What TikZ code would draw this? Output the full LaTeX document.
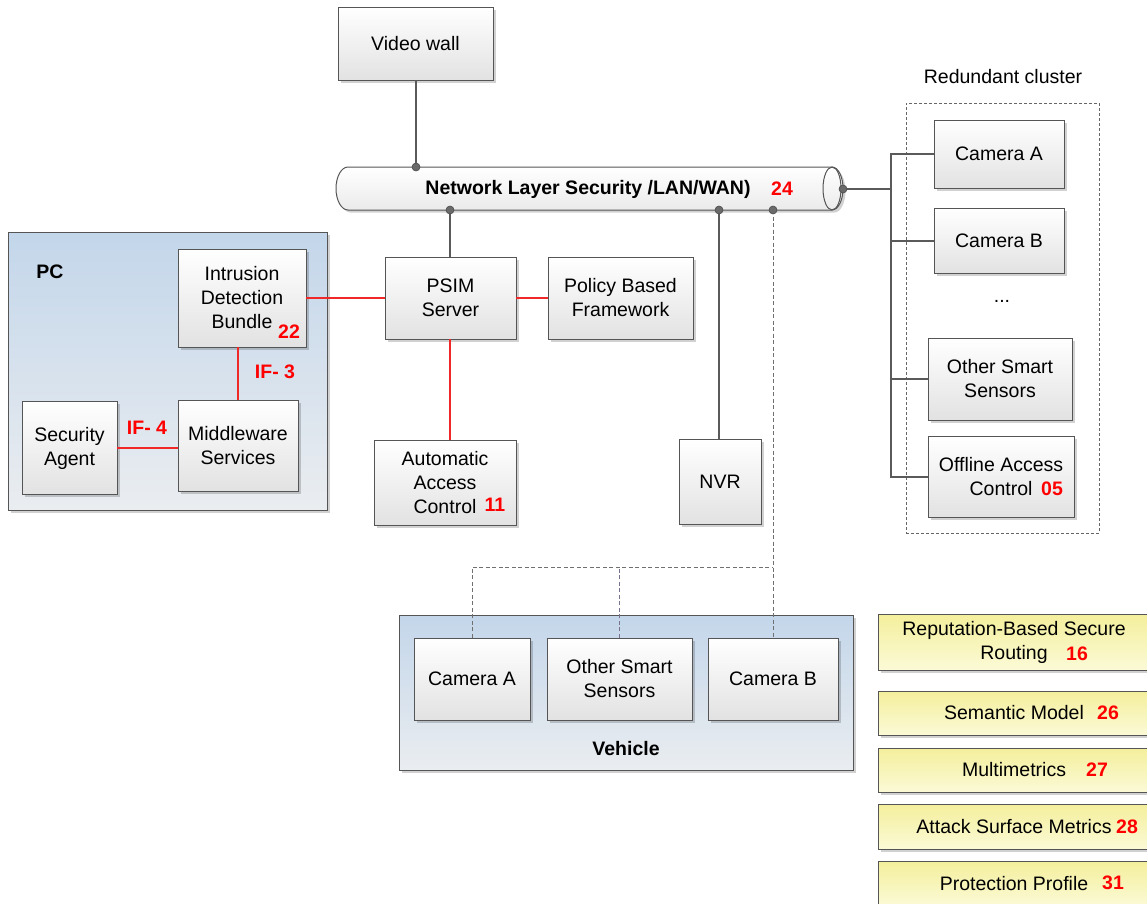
\documentclass[tikz,border=0pt]{standalone}
\usepackage{fontspec}
\setmainfont{Liberation Sans}
\usetikzlibrary{shadows}
\definecolor{edge}{HTML}{555555}
\definecolor{wire}{HTML}{5A5A5A}
\definecolor{boxbot}{HTML}{E2E2E2}
\definecolor{regtop}{HTML}{C3D6EA}
\definecolor{regbot}{HTML}{EAEDF0}
\definecolor{yeltop}{HTML}{F4EF9C}
\definecolor{yelbot}{HTML}{FBFAD6}
\definecolor{tagred}{HTML}{FF0000}
\definecolor{redwire}{HTML}{F02828}
\definecolor{dotfill}{HTML}{6A6A6A}
\definecolor{dashgray}{HTML}{707070}
\definecolor{dashviolet}{HTML}{7A7090}
\begin{document}
\begin{tikzpicture}[x=1pt,y=-1pt,
  every node/.style={font=\fontsize{19.5}{24}\selectfont},
  boxshadow/.style={drop shadow={shadow xshift=2.5pt,shadow yshift=-2.5pt,fill=black,opacity=0.18}},
  gbox/.style={draw=edge,line width=0.9pt,top color=white,bottom color=boxbot,
    boxshadow,align=center,inner sep=0pt},
  ybox/.style={draw=edge,line width=0.9pt,top color=yeltop,bottom color=yelbot,
    boxshadow,align=center,inner sep=0pt,minimum width=272},
  region/.style={draw=edge,line width=0.9pt,top color=regtop,bottom color=regbot,boxshadow},
  tag/.style={text=tagred,font=\fontsize{19.5}{24}\selectfont\bfseries,inner sep=0pt},
  title/.style={font=\fontsize{19.5}{24}\selectfont\bfseries,inner sep=0pt},
  link/.style={draw=wire,line width=1.3pt},
  redlink/.style={draw=redwire,line width=1.3pt},
  dashlink/.style={draw=dashgray,line width=1pt,dash pattern=on 4pt off 2.5pt},
  port/.style={draw=black!70,fill=dotfill,line width=0.6pt}
]
\useasboundingbox (0,0) rectangle (1147,903);

% ---- containers ----
\node[region,minimum width=319,minimum height=278] (pc) at (167.5,371) {};
\node[title] (pclabel) at (50,272) {PC};
\node[region,minimum width=454,minimum height=155] (vehicle) at (626,692.5) {};
\node[title] (vehlabel) at (626,749) {Vehicle};
\node[draw=black!60,line width=0.8pt,dash pattern=on 3pt off 2pt,minimum width=193,minimum height=430] (cluster) at (1002.5,318) {};
\node (clusterlabel) at (1003,77) {Redundant cluster};

% ---- network backbone (pipe) ----
\path[draw=edge,line width=1pt,top color=white,bottom color=black!8,boxshadow]
  (348,167) -- (832,167) arc[start angle=-90,end angle=90,x radius=11,y radius=21.5]
  -- (348,210) arc[start angle=90,end angle=270,x radius=12,y radius=21.5] -- cycle;
\draw[edge,line width=1pt] (832,188.5) ellipse[x radius=9,y radius=21.5];
\node[title] (net) at (588,189) {Network Layer Security /LAN/WAN)};
\node[tag] (n24) at (782,189) {24};
\coordinate (vwport) at (416,167);
\coordinate (psport) at (450,210);
\coordinate (nvrport) at (719,210);
\coordinate (vehport) at (773,210);
\coordinate (rcport) at (843,189);

% ---- boxes ----
\node[gbox,minimum width=155,minimum height=73] (vw) at (415.5,43.5) {Video wall};
\node[gbox,minimum width=131,minimum height=82] (psim) at (450.5,298) {PSIM\\Server};
\node[gbox,minimum width=145,minimum height=82] (pbf) at (620.5,298) {Policy Based\\Framework};
\node[gbox,minimum width=142,minimum height=85] (acc) at (445,482.5) {Automatic\\Access\\Control};
\node[tag] (n11) at (495,505) {11};
\node[gbox,minimum width=82,minimum height=85] (nvr) at (720,481.5) {NVR};

\node[gbox,minimum width=128,minimum height=98] (idb) at (242,298) {Intrusion\\Detection\\Bundle};
\node[tag] (n22) at (289,332) {22};
\node[gbox,minimum width=95,minimum height=93] (sa) at (69.5,448) {Security\\Agent};
\node[gbox,minimum width=120,minimum height=91] (mid) at (238,445.5) {Middleware\\Services};
\node[tag] (if3) at (275,372) {IF- 3};
\node[tag] (if4) at (147,428) {IF- 4};

\node[gbox,minimum width=130,minimum height=68] (camA) at (999,154) {Camera A};
\node[gbox,minimum width=130,minimum height=65] (camB) at (999,241) {Camera B};
\node (dots) at (1002,301) {...};
\node[gbox,minimum width=144,minimum height=82] (oss) at (1000,379) {Other Smart\\Sensors};
\node[gbox,minimum width=146,minimum height=81] (oac) at (1001,477) {Offline Access\\Control};
\node[tag] (n05) at (1052,489) {05};

\node[gbox,minimum width=116,minimum height=82] (vcamA) at (472,679) {Camera A};
\node[gbox,minimum width=145,minimum height=82] (voss) at (619.5,679) {Other Smart\\Sensors};
\node[gbox,minimum width=130,minimum height=82] (vcamB) at (773,679) {Camera B};

% ---- metric boxes ----
\node[ybox,minimum height=56] (rbsr) at (1014,642) {Reputation-Based Secure\\Routing};
\node[tag] (n16) at (1077,654) {16};
\node[ybox,minimum height=44] (sem) at (1014,713) {Semantic Model};
\node[tag] (n26) at (1108,713) {26};
\node[ybox,minimum height=44] (mm) at (1014,770) {Multimetrics};
\node[tag] (n27) at (1097,770) {27};
\node[ybox,minimum height=45] (asm) at (1014,826.5) {Attack Surface Metrics};
\node[tag] (n28) at (1127,826.5) {28};
\node[ybox,minimum height=45] (pp) at (1014,883.5) {Protection Profile};
\node[tag] (n31) at (1113,883) {31};

% ---- connectors ----
\draw[link] (vw.south -| vwport) -- (vwport);
\draw[link] (psport) -- (psim.north -| psport);
\draw[link] (nvrport) -- (nvr.north -| nvrport);
\draw[dashlink] (vehport) -- (vcamB.north -| vehport);

\coordinate (bus) at (891,189);
\draw[link] (rcport) -- (bus);
\draw[link] (camA.west) -| (bus |- oac.west) -- (oac.west);
\draw[link] (camB.west) -- (camB.west -| bus);
\draw[link] (oss.west) -- (oss.west -| bus);

\coordinate (vbus) at (773,567);
\draw[dashlink] (vcamA.north) |- (vbus);
\draw[dashlink,draw=dashviolet] (voss.north) -- (voss.north |- vbus);

\draw[redlink] (idb.east) -- (psim.west);
\draw[redlink] (psim.east) -- (pbf.west);
\draw[redlink] (psim.south -| psport) -- (acc.north -| psport);
\draw[redlink] (mid.north |- idb.south) -- (mid.north);
\draw[redlink] (sa.east) -- (sa.east -| mid.west);

% ---- ports on the backbone ----
\foreach \p in {vwport,psport,nvrport,vehport,rcport}
  \fill[port] (\p) circle[radius=4];
\end{tikzpicture}
\end{document}
